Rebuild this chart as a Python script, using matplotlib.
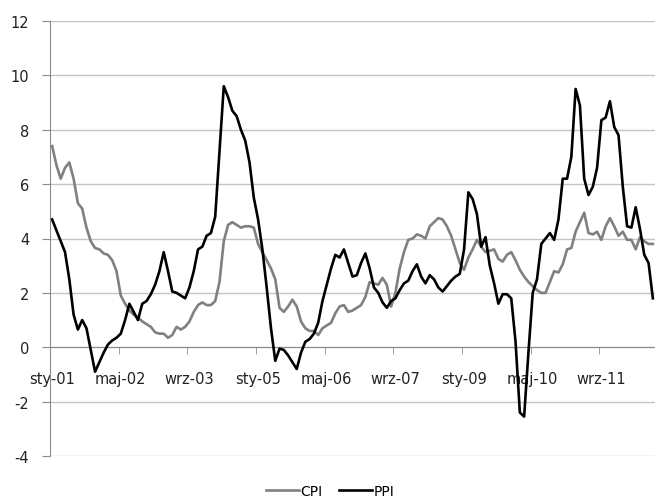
import numpy as np
import matplotlib
matplotlib.use('Agg')
import matplotlib.pyplot as plt

plt.rcParams['axes.unicode_minus'] = False

# monthly y/y values, Jan 2001 - Sep 2012
cpi = [7.4, 6.7, 6.2, 6.6, 6.8, 6.2, 5.3, 5.1, 4.4, 3.9, 3.65, 3.6,
       3.45, 3.4, 3.2, 2.8, 1.9, 1.6, 1.35, 1.2, 1.1, 0.95, 0.85, 0.75,
       0.55, 0.5, 0.5, 0.35, 0.45, 0.75, 0.65, 0.75, 0.95, 1.3, 1.55, 1.65,
       1.55, 1.55, 1.7, 2.4, 3.9, 4.5, 4.6, 4.5, 4.4, 4.45, 4.45, 4.4,
       3.8, 3.5, 3.2, 2.9, 2.5, 1.45, 1.3, 1.5, 1.75, 1.5, 0.95, 0.7,
       0.6, 0.6, 0.45, 0.7, 0.8, 0.9, 1.25, 1.5, 1.55, 1.3, 1.35, 1.45,
       1.55, 1.85, 2.4, 2.35, 2.3, 2.55, 2.3, 1.5, 2.0, 2.9, 3.5, 3.95,
       4.0, 4.15, 4.1, 4.0, 4.45, 4.6, 4.75, 4.7, 4.45, 4.1, 3.6, 3.1,
       2.85, 3.3, 3.6, 3.95, 3.7, 3.5, 3.55, 3.6, 3.25, 3.15, 3.4, 3.5,
       3.2, 2.85, 2.6, 2.4, 2.25, 2.1, 2.0, 2.0, 2.4, 2.8, 2.75, 3.05,
       3.6, 3.65, 4.25, 4.6, 4.95, 4.2, 4.15, 4.25, 3.95, 4.45, 4.75, 4.45,
       4.1, 4.25, 3.95, 3.95, 3.6, 4.05, 3.9, 3.8, 3.8]

ppi = [4.7, 4.3, 3.9, 3.5, 2.5, 1.2, 0.65, 1.0, 0.7, -0.1, -0.9, -0.55,
       -0.2, 0.1, 0.25, 0.35, 0.5, 1.0, 1.6, 1.3, 1.0, 1.6, 1.7, 1.95,
       2.3, 2.8, 3.5, 2.8, 2.05, 2.0, 1.9, 1.8, 2.2, 2.8, 3.6, 3.7,
       4.1, 4.2, 4.8, 7.2, 9.6, 9.2, 8.7, 8.5, 8.0, 7.6, 6.8, 5.5,
       4.7, 3.6, 2.2, 0.7, -0.5, -0.05, -0.1, -0.3, -0.55, -0.8, -0.2, 0.2,
       0.3, 0.5, 0.9, 1.7, 2.3, 2.9, 3.4, 3.3, 3.6, 3.1, 2.6, 2.65,
       3.1, 3.45, 2.9, 2.2, 2.0, 1.65, 1.45, 1.7, 1.8, 2.1, 2.35, 2.45,
       2.8, 3.05, 2.6, 2.35, 2.65, 2.5, 2.2, 2.05, 2.25, 2.45, 2.6, 2.7,
       3.6, 5.7, 5.45, 4.9, 3.7, 4.05, 3.0, 2.35, 1.6, 1.95, 1.95, 1.8,
       0.2, -2.4, -2.55, -0.2, 2.0, 2.5, 3.8, 4.0, 4.2, 3.95, 4.7, 6.2,
       6.2, 7.0, 9.5, 8.9, 6.2, 5.6, 5.9, 6.6, 8.35, 8.45, 9.05, 8.1,
       7.8, 5.9, 4.45, 4.4, 5.15, 4.35, 3.4, 3.1, 1.8]

tick_labels = ['sty-01', 'maj-02', 'wrz-03', 'sty-05', 'maj-06',
               'wrz-07', 'sty-09', 'maj-10', 'wrz-11']
label_step = 16

x = np.arange(len(cpi))

fig = plt.figure(figsize=(6.55, 5.02), dpi=100)
ax = fig.add_axes([50/655, 1 - 457/502, 605/655, 435/502])

ax.plot(x, cpi, color='#808080', lw=1.9, label='CPI', zorder=3)
ax.plot(x, ppi, color='black', lw=1.9, label='PPI', zorder=4)

ax.set_xlim(-0.5, len(cpi) - 0.5)
ax.set_ylim(-4, 12)
ax.set_yticks(range(-4, 13, 2))
ax.yaxis.grid(True, color='#c4c4c4', lw=1)
ax.set_axisbelow(True)

for s in ['top', 'right']:
    ax.spines[s].set_visible(False)
ax.spines['left'].set_color('#8c8c8c')
ax.spines['bottom'].set_position(('data', 0))
ax.spines['bottom'].set_color('#8c8c8c')

pos = np.arange(0, len(cpi), label_step)
ax.set_xticks(pos)
ax.set_xticklabels(tick_labels)
ax.set_xticks(pos - 0.5, minor=True)
ax.tick_params(axis='x', which='major', length=0, pad=17, labelsize=10.5,
               colors='#222222')
ax.tick_params(axis='x', which='minor', length=5, color='#8c8c8c', direction='out')
ax.tick_params(axis='y', length=6, color='#8c8c8c', pad=9, labelsize=10.5,
               labelcolor='#222222')

leg = fig.legend(loc='center', bbox_to_anchor=(330/655, 1 - 492/502), ncol=2,
                 frameon=False, fontsize=10, handlelength=2.4, handletextpad=0.1,
                 columnspacing=1.2)

plt.savefig('out.png', dpi=100)
